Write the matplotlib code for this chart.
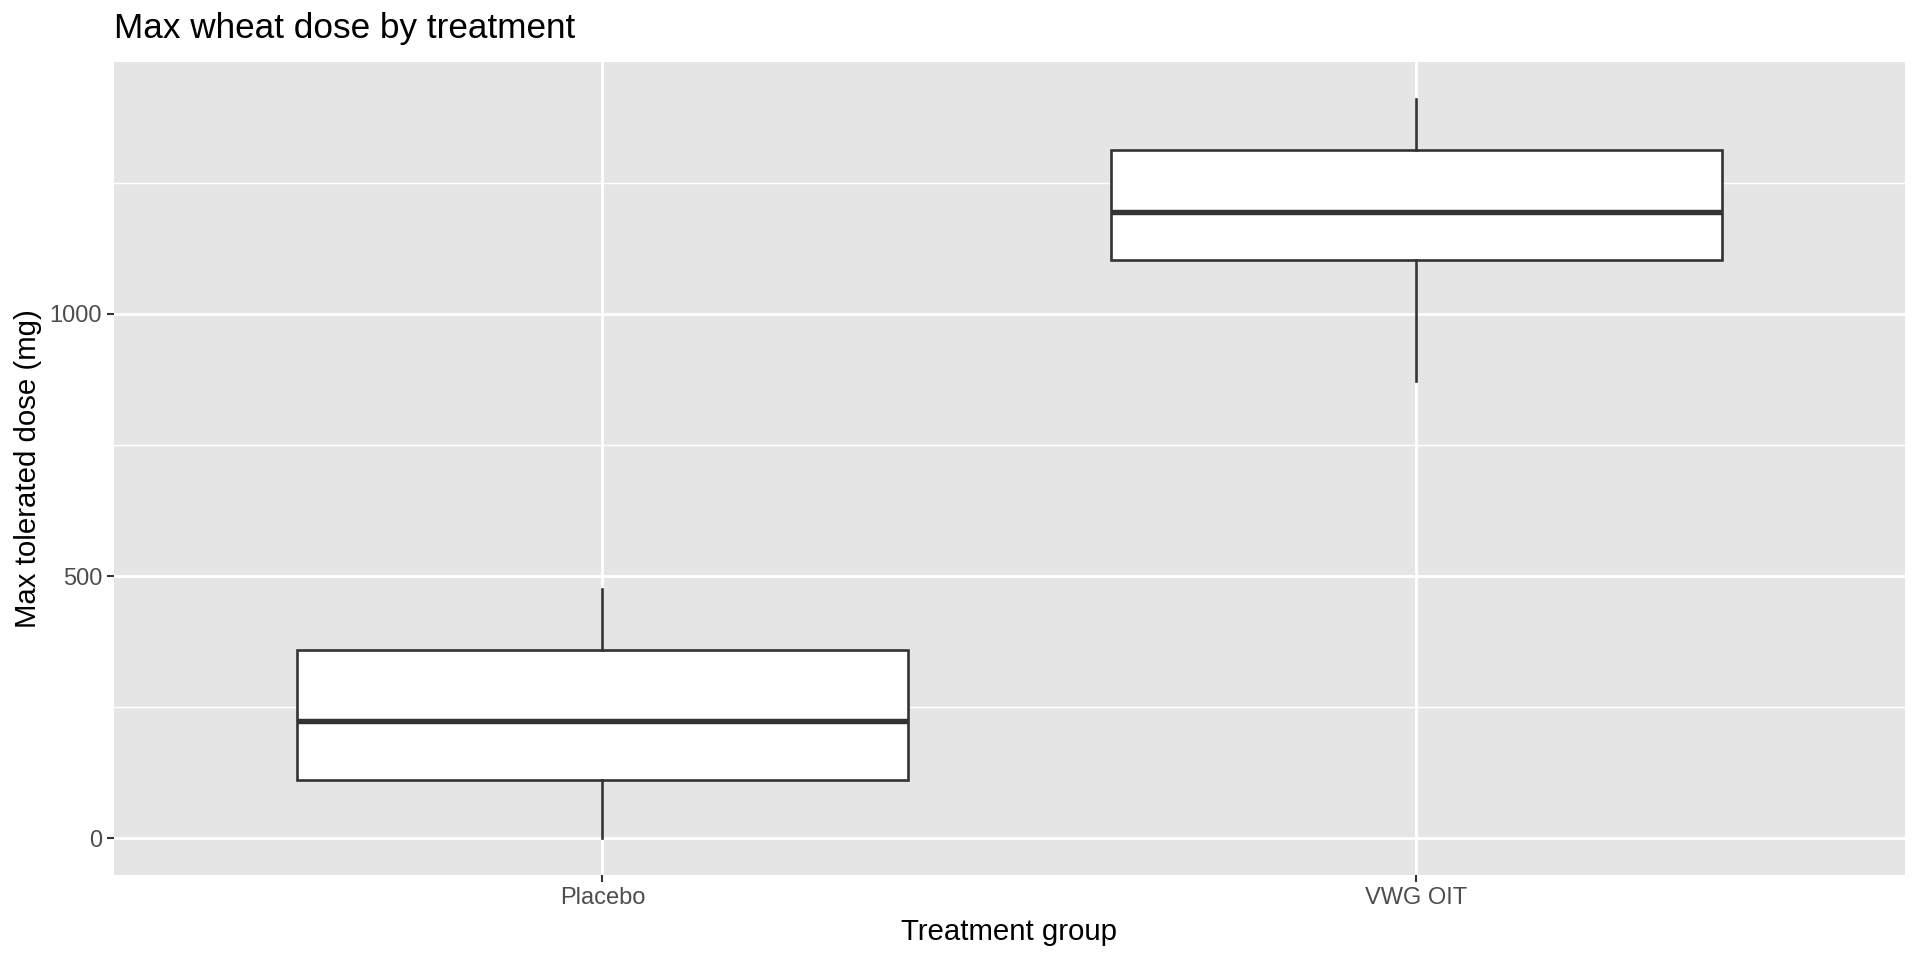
import matplotlib
matplotlib.use("Agg")
import matplotlib.pyplot as plt
from matplotlib.ticker import FixedLocator

# ---- data ----
groups = ["Placebo", "VWG OIT"]
whisker_low = [0, 872]
q1 = [111, 1103]
median = [223, 1194]
q3 = [359, 1313]
whisker_high = [475, 1410]

y_major = [0, 500, 1000]
y_minor = [250, 750, 1250]

title = "Max wheat dose by treatment"
xlabel = "Treatment group"
ylabel = "Max tolerated dose (mg)"

# ---- figure ----
W, H = 1920, 960
dpi = 100
fig = plt.figure(figsize=(W / dpi, H / dpi), dpi=dpi)
plt.rcParams['font.family'] = ['Liberation Sans', 'DejaVu Sans']

left_px, right_px, top_px, bottom_px = 114, 1904.7, 62, 875.3
ax = fig.add_axes([left_px / W, 1 - bottom_px / H,
                   (right_px - left_px) / W, (bottom_px - top_px) / H])
ax.set_facecolor("#E5E5E5")
for s in ax.spines.values():
    s.set_visible(False)

positions = list(range(1, len(groups) + 1))
stats = []
for i, g in enumerate(groups):
    stats.append(dict(label=g, whislo=whisker_low[i], q1=q1[i], med=median[i],
                      q3=q3[i], whishi=whisker_high[i], fliers=[]))

line_c = "#333333"
ax.bxp(stats, positions=positions, widths=0.75, patch_artist=True,
       showcaps=False, showfliers=False,
       boxprops=dict(facecolor="white", edgecolor=line_c, linewidth=1.9),
       whiskerprops=dict(color=line_c, linewidth=1.9),
       medianprops=dict(color=line_c, linewidth=3.9, solid_capstyle="butt"),
       zorder=3)

ax.set_xlim(0.4, len(groups) + 0.6)
span = max(whisker_high) - min(whisker_low)
ax.set_ylim(min(whisker_low) - 0.05 * span, max(whisker_high) + 0.05 * span)

ax.yaxis.set_major_locator(FixedLocator(y_major))
ax.yaxis.set_minor_locator(FixedLocator(y_minor))
ax.set_yticklabels([str(v) for v in y_major])
ax.set_xticks(positions)
ax.set_xticklabels(groups)

ax.grid(which="major", color="white", linewidth=2.1, zorder=0)
ax.grid(which="minor", axis="y", color="white", linewidth=1.05, zorder=0)
ax.set_axisbelow(True)

ax.tick_params(axis="both", which="major", length=5.2, width=1.5, color=line_c,
               labelsize=17, labelcolor="#4D4D4D", pad=3.3)
ax.tick_params(axis="both", which="minor", length=0)

ax.set_xlabel(xlabel, fontsize=21.2, color="black", va="baseline")
ax.xaxis.set_label_coords(0.5, (bottom_px - 940) / (bottom_px - top_px))
ax.set_ylabel(ylabel, fontsize=21.2, color="black", va="center")
ax.yaxis.set_label_coords(-(left_px - 28) / (right_px - left_px), 0.5)

ax.set_title(title, loc="left", fontsize=25.3, color="black", pad=0,
             y=1 + (top_px - 38.3) / (bottom_px - top_px))

fig.savefig("out.png", dpi=dpi, facecolor="white")
